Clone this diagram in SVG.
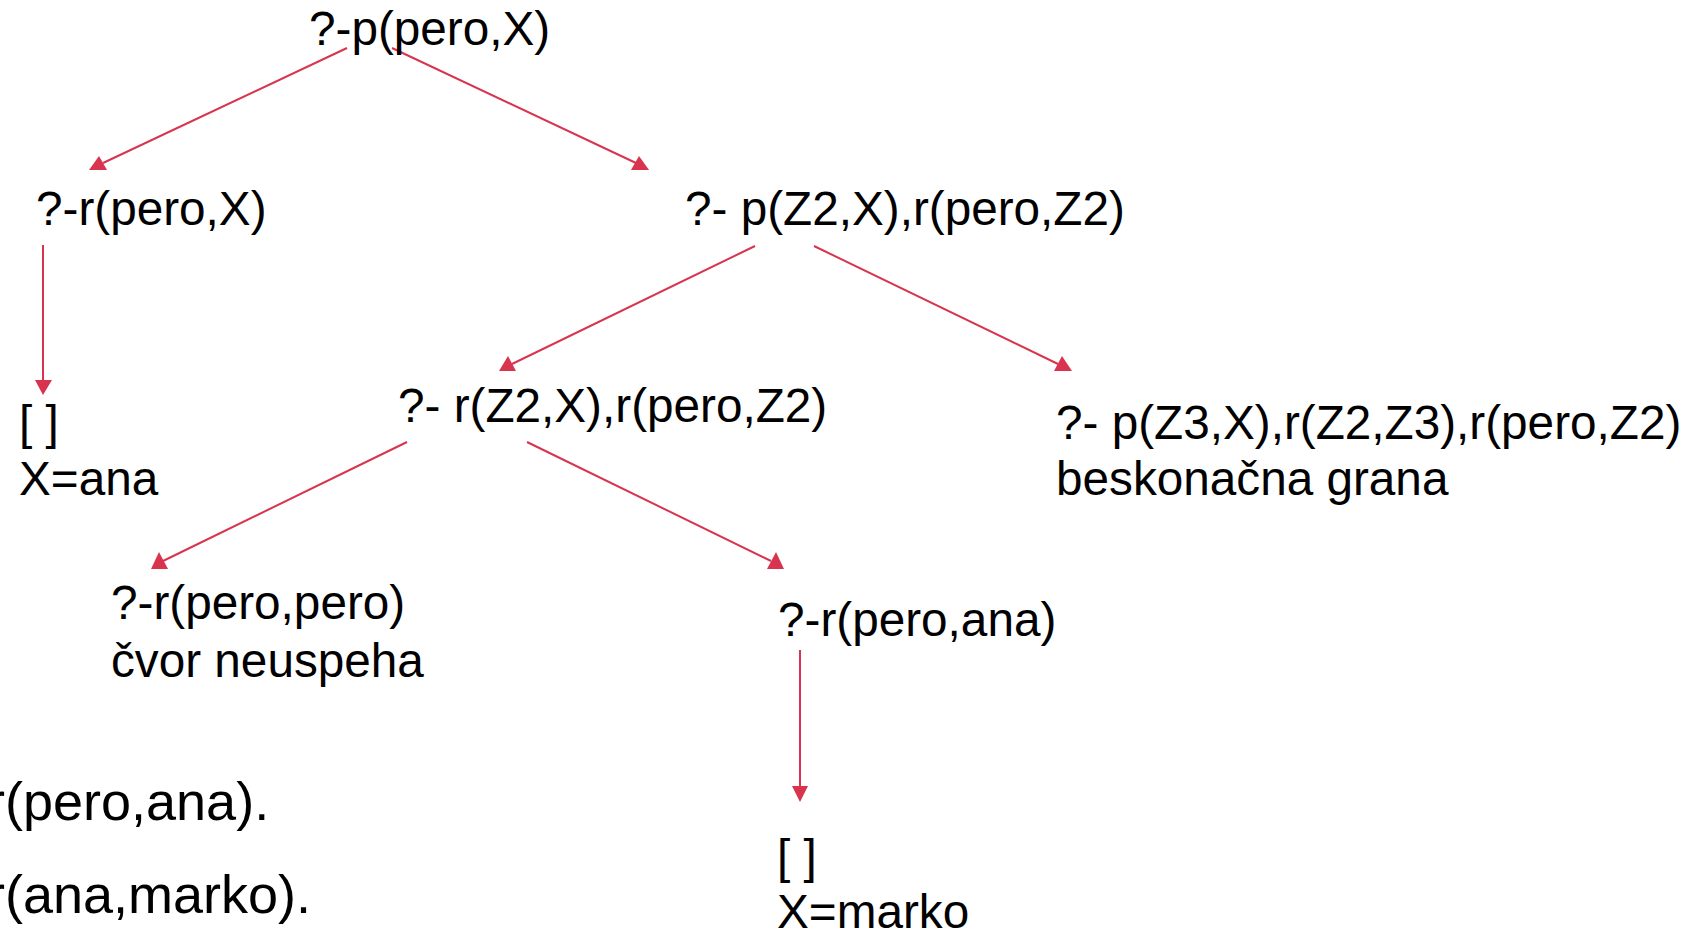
<svg xmlns="http://www.w3.org/2000/svg" width="1698" height="936" viewBox="0 0 1698 936">
  <style>
    .t { font-family: "Liberation Sans", Arial, Helvetica, sans-serif; font-size: 47.7px; fill: #000; }
    .fact { font-size: 54px; }
    .edge { stroke: #d8344f; stroke-width: 2; fill: none; }
    .head { fill: #d8344f; }
  </style>
  <rect width="1698" height="936" fill="#fff"/>

  <!-- connectors of the SLD resolution tree -->
  <g id="connectors">
    <line class="edge" x1="347" y1="48" x2="103" y2="163"/>
    <polygon class="head" points="99,156 89,170 107,170"/>
    <line class="edge" x1="392" y1="48" x2="636" y2="163"/>
    <polygon class="head" points="639,156 631,170 649,170"/>
    <line class="edge" x1="43" y1="245" x2="43" y2="382"/>
    <polygon class="head" points="35,380 52,380 43,395"/>
    <line class="edge" x1="755" y1="246" x2="512" y2="364"/>
    <polygon class="head" points="508,356 499,371 516,371"/>
    <line class="edge" x1="814" y1="246" x2="1058" y2="364"/>
    <polygon class="head" points="1062,356 1054,371 1072,371"/>
    <line class="edge" x1="407" y1="442" x2="163" y2="561"/>
    <polygon class="head" points="159,552 151,569 168,569"/>
    <line class="edge" x1="527" y1="442" x2="771" y2="561"/>
    <polygon class="head" points="776,552 767,569 784,569"/>
    <line class="edge" x1="800" y1="650" x2="800" y2="788"/>
    <polygon class="head" points="792,786 808,786 800,802"/>
  </g>

  <g id="root">
    <text class="t" x="309" y="45">?-p(pero,X)</text>
  </g>
  <g id="goal-r-pero-x">
    <text class="t" x="36" y="225">?-r(pero,X)</text>
  </g>
  <g id="goal-p-z2">
    <text class="t" x="685" y="225">?- p(Z2,X),r(pero,Z2)</text>
  </g>
  <g id="success-ana">
    <text class="t" x="19" y="439">[ ]</text>
    <text class="t" x="19" y="495">X=ana</text>
  </g>
  <g id="goal-r-z2">
    <text class="t" x="398" y="422">?- r(Z2,X),r(pero,Z2)</text>
  </g>
  <g id="infinite-branch">
    <text class="t" x="1056" y="439">?- p(Z3,X),r(Z2,Z3),r(pero,Z2)</text>
    <text class="t" x="1056" y="495">beskonačna grana</text>
  </g>
  <g id="failure">
    <text class="t" x="111" y="619">?-r(pero,pero)</text>
    <text class="t" x="111" y="677">čvor neuspeha</text>
  </g>
  <g id="goal-r-pero-ana">
    <text class="t" x="778" y="636">?-r(pero,ana)</text>
  </g>
  <g id="success-marko">
    <text class="t" x="777" y="873">[ ]</text>
    <text class="t" x="777" y="928">X=marko</text>
  </g>
  <g id="facts">
    <text class="t fact" x="-13" y="820">r(pero,ana).</text>
    <text class="t fact" x="-13" y="913">r(ana,marko).</text>
  </g>
</svg>
